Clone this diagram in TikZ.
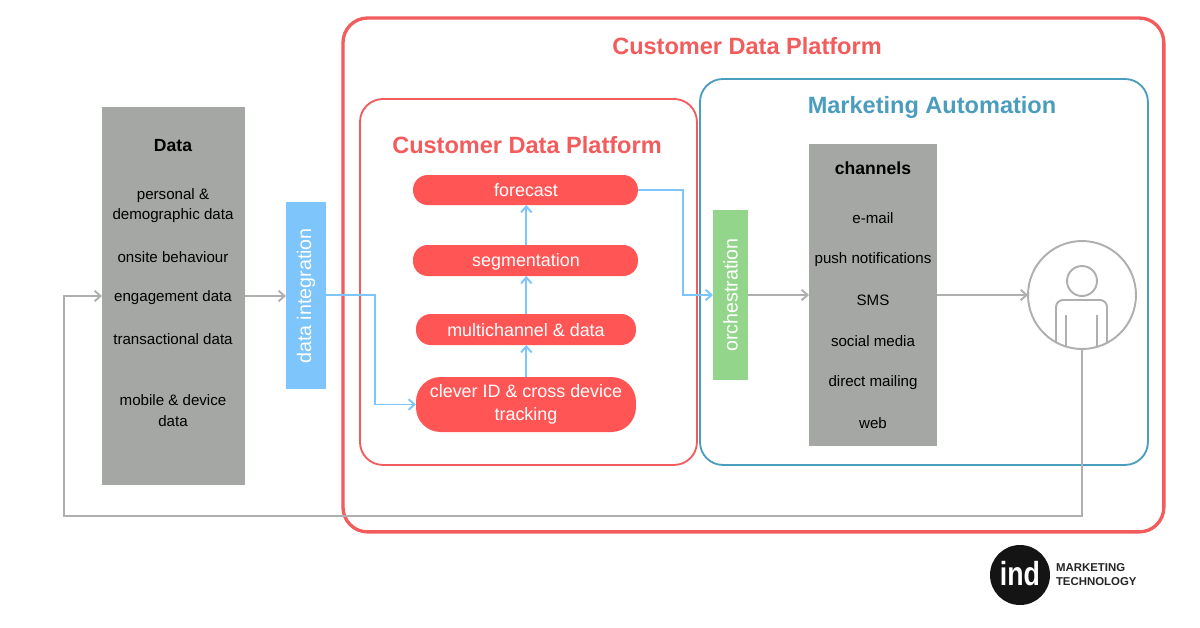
\documentclass[tikz,border=0pt]{standalone}
\usepackage{fontspec}
\setmainfont{Liberation Sans}
\usetikzlibrary{arrows.meta,calc}
\definecolor{cdpred}{HTML}{F25C5C}
\definecolor{pillred}{HTML}{FF5555}
\definecolor{mablue}{HTML}{4B9DBD}
\definecolor{boxgray}{HTML}{A5A7A5}
\definecolor{intblue}{HTML}{7EC5FC}
\definecolor{orchgreen}{HTML}{93D68B}
\definecolor{linegray}{HTML}{AFAFAF}
\tikzset{
  x=0.02cm,y=-0.02cm,
  every node/.style={outer sep=0pt},
  frame/.style={draw,fill=none,rounded corners=#1},
  block/.style={fill=boxgray,draw=none,inner sep=0pt},
  vbar/.style={draw=none,inner sep=0pt,text=white,font=\fontsize{11.2}{13}\selectfont},
  pill/.style={fill=pillred,draw=none,text=white,align=center,inner sep=0pt,font=\fontsize{10.2}{13.2}\selectfont},
  label/.style={font=\fontsize{8.6}{11.6}\selectfont,align=center,text=black,inner sep=0pt},
  bigtitle/.style={font=\fontsize{13.4}{16}\selectfont\bfseries,inner sep=0pt},
  grayline/.style={draw=linegray,line width=1.1pt,-{Straight Barb[length=3.4pt,width=6pt,line width=1.1pt]}},
  blueline/.style={draw=intblue,line width=1.1pt,-{Straight Barb[length=3.4pt,width=6pt,line width=1.1pt]}},
  usershape/.style={draw=linegray,line width=1.1pt}
}
\begin{document}
\begin{tikzpicture}
\useasboundingbox[fill=white] (0,0) rectangle (1200,627);
% frames
\node[frame=14pt,draw=cdpred,line width=1.9pt,minimum width=16.42cm,minimum height=10.28cm,anchor=north west] (outer) at (343,18) {};
\node[frame=13pt,draw=cdpred,line width=1.05pt,minimum width=6.74cm,minimum height=7.32cm,anchor=north west] (cdp) at (360,99) {};
\node[frame=13pt,draw=mablue,line width=1.05pt,minimum width=8.96cm,minimum height=7.72cm,anchor=north west] (ma) at (700,79) {};
% titles
\node[bigtitle,text=cdpred] (t1) at (747,46) {Customer Data Platform};
\node[bigtitle,text=cdpred] (t2) at (527,145) {Customer Data Platform};
\node[bigtitle,text=mablue] (t3) at (932,107) {Marketing Automation};
% blocks
\node[block,minimum width=2.86cm,minimum height=7.56cm,anchor=north west] (data) at (102,107) {};
\node[block,minimum width=2.56cm,minimum height=6.04cm,anchor=north west] (chan) at (809,144) {};
\node[vbar,fill=intblue,minimum width=0.8cm,minimum height=3.74cm,anchor=north west] (dint) at (286,202) {};
\node[vbar,rotate=90] (dintt) at (306,296) {data integration};
\node[vbar,fill=orchgreen,minimum width=0.7cm,minimum height=3.4cm,anchor=north west] (orch) at (713,210) {};
\node[vbar,rotate=90] (orcht) at (730.5,295) {orchestration};
% data labels
\node[label,font=\fontsize{10}{12}\selectfont\bfseries] (d0) at (173,145.5) {Data};
\node[label] (d1) at (173,205.5) {personal \&\\demographic data};
\node[label] (d2) at (173,257) {onsite behaviour};
\node[label] (d3) at (173,297.5) {engagement data};
\node[label] (d4) at (173,339) {transactional data};
\node[label] (d5) at (173,410.5) {mobile \& device\\data};
% channel labels
\node[label,font=\fontsize{10}{12}\selectfont\bfseries] (c0) at (873,168.5) {channels};
\node[label] (c1) at (873,218) {e-mail};
\node[label] (c2) at (873,260) {push notifications};
\node[label] (c3) at (873,300) {SMS};
\node[label] (c4) at (873,341) {social media};
\node[label] (c5) at (873,383) {direct mailing};
\node[label] (c6) at (873,423) {web};
% pills
\node[pill,rounded corners=8.4pt,minimum width=4.5cm,minimum height=0.6cm,anchor=north west] (fc) at (413,175) {};
\node[pill,anchor=center] (fct) at (526,190) {forecast};
\node[pill,rounded corners=8.4pt,minimum width=4.5cm,minimum height=0.62cm,anchor=north west] (seg) at (413,245) {};
\node[pill,anchor=center] (segt) at (526,262) {segmentation};
\node[pill,rounded corners=8.4pt,minimum width=4.4cm,minimum height=0.62cm,anchor=north west] (mc) at (416,314) {};
\node[pill,anchor=center] (mct) at (526,330) {multichannel \& data};
\node[pill,rounded corners=14pt,minimum width=4.4cm,minimum height=1.1cm,anchor=north west] (cl) at (416,377) {clever ID \& cross device\\tracking};
% user icon
\node[circle,usershape,minimum size=2.16cm,inner sep=0pt] (user) at (1082,295) {};
\node[circle,usershape,minimum size=0.6cm,inner sep=0pt] (head) at (1082,281) {};
\draw[usershape,rounded corners=4pt] (1056,343) -- (1056,300) -- (1107,300) -- (1107,343);
\draw[usershape] (1066,315) -- (1066,347);
\draw[usershape] (1097,315) -- (1097,347);
% connectors
\coordinate (ly) at (0,296);
\coordinate (ry) at (0,295);
\coordinate (by) at (0,516);
\coordinate (lx) at (64,0);
\coordinate (ix) at (375,0);
\coordinate (fx) at (683,0);
\coordinate (ax) at (526.3,0);
\draw[grayline] (data.east |- ly) -- (dint.west |- ly);
\draw[grayline] (orch.east |- ry) -- (chan.west |- ry);
\draw[grayline] (chan.east |- ry) -- (user.west);
\draw[grayline] (user.south) -- (user.south |- by) -- (lx |- by) -- (lx |- ly) -- (data.west |- ly);
\draw[blueline] (dint.east |- ry) -- (ix |- ry) -- (ix |- cl.west) -- (cl.west);
\draw[blueline] (fc.east) -- (fx |- fc.east) -- (fx |- ry) -- (orch.west |- ry);
\draw[blueline] (ax |- cl.north) -- (ax |- mc.south);
\draw[blueline] (ax |- mc.north) -- (ax |- seg.south);
\draw[blueline] (ax |- seg.north) -- (ax |- fc.south);
% logo
\node[circle,fill=black!92,minimum size=1.2cm,inner sep=0pt] (logo) at (1020,575) {};
\node[text=white,inner sep=0pt,xscale=0.8,font=\fontsize{19}{20}\selectfont\bfseries] (logot) at (1020,574) {ind};
\node[anchor=west,align=left,inner sep=0pt,text=black!85,font=\fontsize{6.5}{8}\selectfont\bfseries] (logow) at (1056,575) {MARKETING\\TECHNOLOGY};
\end{tikzpicture}
\end{document}
